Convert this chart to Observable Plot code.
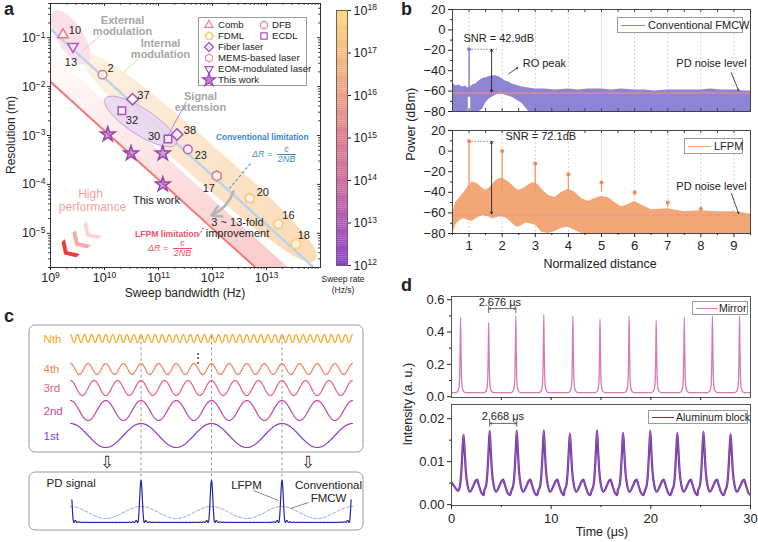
<!DOCTYPE html>
<html>
<head>
<meta charset="utf-8">
<script src="https://cdn.jsdelivr.net/npm/d3@7"></script>
<script src="https://cdn.jsdelivr.net/npm/@observablehq/plot@0.6"></script>
<style>
html,body{margin:0;padding:0;background:#fff;}
#fig{position:relative;width:758px;height:542px;overflow:hidden;font-family:"Liberation Sans",Arial,Helvetica,sans-serif;color:#222;}
#fig svg{overflow:visible;}
.box{position:absolute;border:1px solid #9a9a9a;background:#fff;}
.frac{display:inline-block;vertical-align:middle;text-align:center;line-height:1.05;margin-left:2px;}
.frac>span{display:block;padding:0 1px;}
.frac>span:first-child{border-bottom:1px solid currentColor;}
.plab{position:absolute;font-weight:bold;font-size:18px;line-height:18px;}
</style>
</head>
<body>
<div id="fig"></div>
<script>
// ======================= DATA =======================
// Panel a: literature data points
const refLabels       = ["10","13","2","37","32","30","38","23","17","20","16","18"];
const refTypes        = ["Comb","EOM-modulated laser","DFB","Fiber laser","ECDL","ECDL","Fiber laser","DFB","MEMS-based laser","FDML","FDML","FDML"];
const refBandwidthHz  = [1.7e9,2.6e9,9.2e9,3.3e10,2.1e10,1.5e11,2.2e11,3.5e11,1.2e12,4.9e12,1.66e13,3.5e13];
const refResolutionM  = [0.115,0.066,0.0175,5.5e-3,3.2e-3,8.5e-4,1.05e-3,5.2e-4,1.5e-4,5.2e-5,1.55e-5,6.0e-6];
const refSweepRateExp = [15,13,15,12.6,12.7,12.7,12.6,13.3,15,17.3,17.5,17.8];
// Panel a: this work
const workBandwidthHz  = [1.15e10,3.1e10,1.2e11,1.2e11];
const workResolutionM  = [1.05e-3,4.3e-4,4.3e-4,1.0e-4];
const workSweepRateExp = [12.8,12.8,12.8,12.8];
const legendTypes = ["Comb","DFB","FDML","ECDL","Fiber laser","MEMS-based laser","EOM-modulated laser","This work"];
const xTicksA = [1e9,1e10,1e11,1e12,1e13];
const yTicksA = [1e-5,1e-4,1e-3,1e-2,1e-1];
const rateTickExp = [12,13,14,15,16,17,18];
const halfC = 1.5e8;      // c/2
const lfpmFold = 12;      // N of the LFPM limitation
const lfpmBandFold = 3;   // upper edge of the improvement band

// Panel b: conventional FMCW spectrum envelope (dBm)
const fmcwX  = [0.5,0.55,0.6,0.7,0.8,0.9,0.95,1.05,1.1,1.2,1.3,1.4,1.5,1.6,1.7,1.8,1.9,2.0,2.1,2.2,2.3,2.4,2.6,2.8,3.0,3.3,3.6,4.0,4.3,4.6,5.0,5.3,5.6,6.0,6.3,6.6,7.0,7.3,7.6,8.0,8.3,8.6,9.0,9.3,9.5];
const fmcwHi = [-56,-53,-55,-54,-56,-55,-57,-56,-54,-53,-50,-48,-47,-46,-45,-45,-46,-48,-50,-51,-53,-54,-56,-57,-58,-58,-59,-58,-59,-58,-58,-59,-58,-59,-59,-60,-59,-59,-59,-59,-58,-59,-59,-60,-60];
const fmcwLo = [-80,-80,-80,-80,-80,-80,-80,-80,-80,-80,-80,-78,-72,-68,-66,-64,-63,-63,-64,-65,-66,-68,-72,-80,-80,-80,-80,-80,-80,-80,-80,-80,-80,-80,-80,-80,-80,-80,-80,-80,-80,-80,-80,-80,-80];
const fmcwPeakX = 1, fmcwPeakY = -19;
// Panel b: LFPM spectrum envelope (dBm)
const lfpmX  = [0.5,0.55,0.6,0.7,0.8,0.9,0.95,1.05,1.1,1.2,1.3,1.4,1.5,1.6,1.7,1.8,1.9,2.0,2.1,2.2,2.3,2.4,2.5,2.6,2.7,2.8,2.9,3.0,3.1,3.2,3.4,3.6,3.8,4.0,4.2,4.4,4.6,4.8,5.0,5.2,5.4,5.6,5.8,6.0,6.2,6.5,7.0,7.5,8.0,8.5,9.0,9.5];
const lfpmHi = [-62,-55,-50,-46,-42,-38,-35,-32,-30,-31,-33,-36,-38,-36,-33,-29,-27,-26,-28,-30,-33,-36,-38,-37,-35,-33,-31,-31,-33,-37,-43,-45,-40,-37,-40,-46,-49,-46,-44,-45,-50,-54,-52,-49,-52,-57,-56,-59,-58,-59,-59,-61];
const lfpmLo = [-80,-76,-72,-68,-66,-66,-67,-68,-68,-66,-64,-63,-63,-64,-66,-65,-64,-64,-65,-67,-70,-73,-74,-72,-70,-70,-71,-72,-75,-79,-80,-78,-75,-74,-77,-80,-80,-80,-80,-80,-80,-80,-80,-80,-80,-80,-80,-80,-80,-80,-80,-80];
const lfpmPeakX = [1,2,3,4,5,6,7,8];
const lfpmPeakY = [9.5,0,-12,-22.5,-30.5,-40,-50,-56];
const noiseLevelDbm = -62;
const bTicksX = [1,2,3,4,5,6,7,8,9];
const bTicksY = [20,0,-20,-40,-60,-80];

// Panel c: harmonics (schematic)
const harmonicNames  = ["Nth","4th","3rd","2nd","1st"];
const harmonicCycles = [10,4,3,2,1];
const harmonicColors = ["#f6a623","#f2825c","#e4607c","#c248a8","#8b3fd0"];
const pdHarmonics = 10;

// Panel d: pulse trains
const mirrorPeakT = [0.91,3.73,6.45,9.26,12.18,14.9,17.82,20.54,23.36,26.18,28.9];
const mirrorPeakV = [0.49,0.46,0.50,0.51,0.50,0.48,0.50,0.47,0.49,0.50,0.50];
const mirrorBase = 0.025;
const mirrorShapeDt  = [-0.5,-0.28,-0.16,-0.09,-0.045,0,0.045,0.09,0.16,0.28,0.5];
const mirrorShapeRel = [0,0.02,0.07,0.22,0.55,1,0.55,0.22,0.07,0.02,0];
const alPeakT = [1.21,3.83,6.55,9.26,11.88,14.6,17.22,19.94,22.66,25.28,28.0];
const alPeakV = [0.0163,0.0172,0.0172,0.0173,0.0166,0.0173,0.0167,0.0172,0.0167,0.0170,0.0164];
const alShapeDt = [-0.55,-0.35,-0.2,-0.1,0,0.1,0.22,0.4,0.65,0.95,1.2,1.35,1.55,1.8,2.05];
const alShapeV  = [0.0032,0.0045,0.0085,0.013,null,0.013,0.008,0.0045,0.003,0.0042,0.0055,0.0058,0.0044,0.0027,0.0022];
const alStart = [[0,0.0052],[0.3,0.0042]];
const dTicksX = [0,10,20,30];

// ======================= HELPERS =======================
const FONT='"Liberation Sans", Arial, Helvetica, sans-serif';
const fig=document.getElementById('fig');
const NS='http://www.w3.org/2000/svg';
function put(node,left,top){node.style.position='absolute';node.style.left=left+'px';node.style.top=top+'px';fig.appendChild(node);return node;}
function htmlAt(inner,left,top,css){const d=document.createElement('div');d.innerHTML=inner;d.style.cssText=css||'';return put(d,left,top);}
function hLabel(text,cx,cy,size,css){const d=document.createElement('div');d.textContent=text;d.style.cssText=`width:300px;text-align:center;font-size:${size}px;line-height:${size}px;white-space:nowrap;${css||''}`;return put(d,cx-150,cy-size/2);}
function vLabel(text,cx,cy,size){const d=document.createElement('div');d.textContent=text;d.style.cssText=`width:200px;text-align:center;font-size:${size}px;line-height:${size}px;white-space:nowrap;transform:rotate(-90deg);transform-origin:100px ${size/2}px;`;return put(d,cx-100,cy-size/2);}
function supify(svg){svg.querySelectorAll('text').forEach(t=>{const m=/^10\^(.+)$/.exec(t.textContent);if(!m)return;t.textContent='';const a=document.createElementNS(NS,'tspan');a.textContent='10';const b=document.createElementNS(NS,'tspan');b.textContent=m[1].replace('-','\u2212');b.setAttribute('dy','-0.48em');b.setAttribute('font-size','68%');t.append(a,b);});return svg;}
const base={style:{fontFamily:FONT,fontSize:'12.5px',background:'transparent',overflow:'visible',color:'#222'},color:{type:'identity'}};

const rateStops=[12,13,14,15,16,17,18];
const rateColors=["#8a3fd0","#b257b5","#d26c9c","#e07d8c","#eda086","#f6bc7e","#fdd57a"];
const rateColor=d3.scaleLinear().domain(rateStops).range(rateColors).interpolate(d3.interpolateRgb);

function polySym(n,rot,k){return {draw(ctx,size){const R=Math.sqrt(size/Math.PI)*k;for(let i=0;i<n;i++){const a=rot+2*Math.PI*i/n;const x=R*Math.sin(a),y=-R*Math.cos(a);if(i)ctx.lineTo(x,y);else ctx.moveTo(x,y);}ctx.closePath();}};}
const typeSymbol={"Comb":polySym(3,0,1.3),"DFB":d3.symbolCircle,"FDML":polySym(5,0,1.12),"ECDL":d3.symbolSquare,"Fiber laser":polySym(4,0,1.25),"MEMS-based laser":polySym(6,0,1.1),"EOM-modulated laser":polySym(3,Math.PI,1.3),"This work":d3.symbolStar};
const typeLegendColor={"Comb":"#ea8592","DFB":"#e57f93","FDML":"#f7bb58","ECDL":"#a552c6","Fiber laser":"#9d47c5","MEMS-based laser":"#e8909c","EOM-modulated laser":"#a24bc6","This work":"#9b4ab9"};
function symPath(sym,r){return d3.symbol().type(sym).size(Math.PI*r*r)();}

// ======================= PANEL A =======================
const A={w:330,h:300,ml:50,mr:10,mt:3,mb:33};A.fw=A.w-A.ml-A.mr;A.fh=A.h-A.mt-A.mb;
const ly0=Math.log10(2e-6),ly1=Math.log10(0.5);
const aX=px=>10**(9+(px-A.ml)/A.fw*5);
const aY=py=>10**(ly1-(py-A.mt)/A.fh*(ly1-ly0));
const aPX=B=>A.ml+(Math.log10(B)-9)/5*A.fw;
const aPY=R=>A.mt+(ly1-Math.log10(R))/(ly1-ly0)*A.fh;
function ellipse(s){const th=s.ang*Math.PI/180,pts=[];for(let i=0;i<90;i++){const t=2*Math.PI*i/90,ct=Math.cos(t),st=Math.sin(t);const u=s.a*Math.sign(ct)*Math.abs(ct)**(2/s.p),v=s.b*Math.sign(st)*Math.abs(st)**(2/s.p);pts.push({x:aX(s.cx+u*Math.cos(th)-v*Math.sin(th)),y:aY(s.cy+u*Math.sin(th)+v*Math.cos(th))});}return pts;}
const shapes={external:{cx:70,cy:37,a:31,b:13,ang:58,p:2},internal:{cx:200,cy:158,a:153,b:18,ang:41.5,p:2.6},signal:{cx:140,cy:121,a:42,b:13,ang:33,p:2}};
const labelOffset={"10":[12,-4],"13":[-2,16],"2":[8,-6],"37":[11,-4],"32":[10,10],"30":[-14,-2],"38":[13,-4],"23":[13,6],"17":[-8,13],"20":[13,-6],"16":[10,-9],"18":[8,-9]};
const xMinorA=[],yMinorA=[];
for(let e=9;e<14;e++)for(let m=2;m<10;m++)xMinorA.push(m*10**e);
for(let e=-6;e<0;e++)for(let m=2;m<10;m++){const v=m*10**e;if(v>=2e-6&&v<=0.5)yMinorA.push(v);}
const bandB=[1e9,1e14];
const defsA=()=>{const g=document.createElementNS(NS,'defs');g.innerHTML='<linearGradient id="gPink" gradientUnits="userSpaceOnUse" x1="70" y1="80" x2="250" y2="260"><stop offset="0" stop-color="#fff6f6"/><stop offset="1" stop-color="#fbcdcd"/></linearGradient><linearGradient id="gOrange" gradientUnits="userSpaceOnUse" x1="90" y1="55" x2="310" y2="260"><stop offset="0" stop-color="#fdf0e2"/><stop offset="1" stop-color="#fcdab4"/></linearGradient>';return g;};
const link=(p,stroke,dash,w)=>Plot.link([0],{x1:aX(p[0]),y1:aY(p[1]),x2:aX(p[2]),y2:aY(p[3]),stroke,strokeDasharray:dash,strokeWidth:w||0.9});
const txt=(t,px,py,o)=>Plot.text([t],{x:aX(px),y:aY(py),text:d=>d,fontSize:11,lineHeight:1.0,...o});
const idx=n=>d3.range(n);
const dotMarks=Object.keys(typeSymbol).filter(t=>t!=="This work").map(t=>Plot.dot(idx(refLabels.length).filter(i=>refTypes[i]===t),{x:i=>refBandwidthHz[i],y:i=>refResolutionM[i],symbol:typeSymbol[t],r:t==="DFB"?4.3:(t==="ECDL"?4.2:4.6),stroke:i=>rateColor(refSweepRateExp[i]),strokeWidth:1.5,fill:'#fff',fillOpacity:0.6}));
const plotA=Plot.plot({
  width:A.w,height:A.h,marginLeft:A.ml,marginRight:A.mr,marginTop:A.mt,marginBottom:A.mb,
  x:{type:'log',domain:[1e9,1e14]},y:{type:'log',domain:[2e-6,0.5]},...base,
  marks:[
    defsA,
    Plot.areaY(bandB,{x:d=>d,y1:d=>halfC/(lfpmFold*d),y2:d=>halfC/(lfpmBandFold*d),fill:'url(#gPink)',clip:true}),
    Plot.line(ellipse(shapes.internal),{x:'x',y:'y',fill:'url(#gOrange)',stroke:'none',curve:'linear-closed',clip:true}),
    Plot.line(ellipse(shapes.external),{x:'x',y:'y',fill:'#fbdfe9',stroke:'none',curve:'linear-closed',clip:true}),
    Plot.line(bandB,{x:d=>d,y:d=>halfC/d,stroke:'#b9d3ea',strokeWidth:2.5,clip:true}),
    Plot.line(ellipse(shapes.signal),{x:'x',y:'y',fill:'#e6d6f2',fillOpacity:0.85,stroke:'#b98ad6',strokeWidth:0.8,curve:'linear-closed',clip:true}),
    Plot.line(bandB,{x:d=>d,y:d=>halfC/(lfpmFold*d),stroke:'#f37b7b',strokeWidth:2,clip:true}),
    link([82,50,100,35],'#f4b6c8'),
    link([123,72,138,58],'#f5c98f'),
    link([163,143,186,101],'#b27ed4'),
    link([250,163,229,188],'#4f93d2','3,2',1.1),
    link([198,235,204,226],'#f0506a','2,1.5',1.1),
    Plot.arrow([0],{x1:aX(233),y1:aY(191),x2:aX(211),y2:aY(215),bend:true,stroke:'#b5b5b5',strokeWidth:2.6,headLength:7}),
    ...dotMarks,
    Plot.dot(idx(workBandwidthHz.length),{x:i=>workBandwidthHz[i],y:i=>workResolutionM[i],symbol:d3.symbolStar,r:4.6,fill:i=>rateColor(workSweepRateExp[i]),fillOpacity:0.55,stroke:'#9545b8',strokeWidth:1.5}),
    Plot.text(idx(refLabels.length),{x:i=>aX(aPX(refBandwidthHz[i])+labelOffset[refLabels[i]][0]),y:i=>aY(aPY(refResolutionM[i])+labelOffset[refLabels[i]][1]),text:i=>refLabels[i],fontSize:11,fill:'#222'}),
    txt("External\nmodulation",122,25.5,{fill:'#a6a6a6',fontWeight:'bold'}),
    txt("Internal\nmodulation",160,48.5,{fill:'#a6a6a6',fontWeight:'bold'}),
    txt("Signal\nextension",200,101.5,{fill:'#a6a6a6',fontWeight:'bold'}),
    txt("This work",156,200,{fill:'#222'}),
    txt("3 ~ 13-fold\nimprovement",237,227.5,{fill:'#222'}),
    txt("High",90,194,{fill:'#f4a3a3',fontSize:12}),
    txt("performance",92,207,{fill:'#f4a3a3',fontSize:12}),
    Plot.text(["\u276E"],{x:aX(89),y:aY(231),text:d=>d,rotate:-45,fontSize:21,fill:'#fbd6d6',fontFamily:'DejaVu Sans'}),
    Plot.text(["\u276E"],{x:aX(78),y:aY(240),text:d=>d,rotate:-45,fontSize:21,fill:'#f7a9a9',fontFamily:'DejaVu Sans'}),
    Plot.text(["\u276E"],{x:aX(67),y:aY(249),text:d=>d,rotate:-45,fontSize:21,fill:'#f23a3a',fontFamily:'DejaVu Sans'}),
    Plot.axisX({ticks:xTicksA,tickFormat:d=>'10^'+Math.round(Math.log10(d)),tickSize:3,tickPadding:3,fontSize:12.5,label:null}),
    Plot.axisX({ticks:xMinorA,tickFormat:()=>'',tickSize:1.8,label:null}),
    Plot.axisY({ticks:yTicksA,tickFormat:d=>'10^'+Math.round(Math.log10(d)),tickSize:3,tickPadding:2,fontSize:12.5,label:null}),
    Plot.axisY({ticks:yMinorA,tickFormat:()=>'',tickSize:1.8,label:null}),
    Plot.tickX([...xTicksA,1e14],{x:d=>d,insetBottom:A.fh-3,stroke:'#333'}),
    Plot.tickX(xMinorA,{x:d=>d,insetBottom:A.fh-1.8,stroke:'#333'}),
    Plot.tickY(yTicksA,{y:d=>d,insetLeft:A.fw-3,stroke:'#333'}),
    Plot.tickY(yMinorA,{y:d=>d,insetLeft:A.fw-1.8,stroke:'#333'}),
    Plot.frame({stroke:'#333'})
  ]});
put(supify(plotA),0,0);
vLabel("Resolution (m)",11,135,12);
hLabel("Sweep bandwidth (Hz)",185,293,12);
// formulas
htmlAt('Conventional limitation',216,132,'color:#3c89cc;font-weight:bold;font-size:8.4px;white-space:nowrap;');
htmlAt('<i>\u0394R</i> = <span class="frac"><span><i>c</i></span><span><i>2NB</i></span></span>',252,145,'color:#3c89cc;font-size:9px;white-space:nowrap;');
hLabel('LFPM limitation',167,234,8.6,'color:#f0506a;font-weight:bold;');
htmlAt('<i>\u0394R</i> = <span class="frac"><span><i>c</i></span><span><i>2NB</i></span></span>',148,239,'color:#f0506a;font-size:9px;white-space:nowrap;');
// legend of panel a
(function(){const box=document.createElement('div');box.className='box';box.style.width='107px';box.style.height='67px';put(box,198,17);
 const pos={"Comb":[0,0],"DFB":[1,0],"FDML":[0,1],"ECDL":[1,1],"Fiber laser":[0,2],"MEMS-based laser":[0,3],"EOM-modulated laser":[0,4],"This work":[0,5]};
 legendTypes.forEach(t=>{const [c,r]=pos[t];const mx=c?65:10,tx=c?73:19,cy=7+r*11;const star=t==="This work";const col=typeLegendColor[t];
  const s=document.createElementNS(NS,'svg');s.setAttribute('width',14);s.setAttribute('height',14);s.style.cssText=`position:absolute;left:${mx-7}px;top:${cy-7}px;overflow:visible`;
  const p=document.createElementNS(NS,'path');p.setAttribute('d',symPath(typeSymbol[t],star?4.2:3.6));p.setAttribute('transform','translate(7,7)');p.setAttribute('stroke',col);p.setAttribute('stroke-width',1.2);p.setAttribute('fill',star?col:'#fff');if(star)p.setAttribute('fill-opacity',0.7);s.appendChild(p);box.appendChild(s);
  const sp=document.createElement('span');sp.textContent=t;sp.style.cssText=`position:absolute;left:${tx}px;top:${cy-6}px;font-size:9.6px;line-height:12px;white-space:nowrap;`;box.appendChild(sp);});
})();

// ======================= COLORBAR =======================
const cbSteps=d3.range(12,18,0.05);
const plotCB=Plot.plot({width:80,height:300,marginLeft:16,marginRight:53,marginTop:10,marginBottom:35,x:{domain:[0,1],axis:null},y:{domain:[12,18]},...base,
  marks:[Plot.rect(cbSteps,{x1:0,x2:1,y1:d=>d,y2:d=>d+0.051,fill:d=>rateColor(d)}),Plot.frame({stroke:'#666'}),
    Plot.axisY({anchor:'right',ticks:rateTickExp,tickFormat:d=>'10^'+d,tickSize:3,tickPadding:3,fontSize:12.5,label:null})]});
put(supify(plotCB),320,0);
hLabel("Sweep rate",343,279,8.5);hLabel("(Hz/s)",343,290,8.5);

// ======================= PANEL B =======================
function bAxes(frameH,showX){const m=[
  Plot.axisY({ticks:bTicksY,tickSize:4,tickPadding:3,fontSize:13,label:null}),
  Plot.axisY({ticks:[10,-10,-30,-50,-70],tickSize:2,tickFormat:()=>'',label:null}),
  Plot.tickX(d3.range(0.5,9.51,0.5),{x:d=>d,insetBottom:frameH-3,stroke:'#444'}),
  Plot.frame({stroke:'#444'})];
  if(showX){m.push(Plot.axisX({ticks:bTicksX,tickSize:4,tickPadding:3,fontSize:13,label:null}),Plot.axisX({ticks:d3.range(0.5,9.51,1),tickSize:2,tickFormat:()=>'',label:null}));}
  else{m.push(Plot.tickX(d3.range(0.5,9.51,0.5),{x:d=>d,insetTop:frameH-3,stroke:'#444'}));}
  return m;}
const tx1=(s,x,y,o)=>Plot.text([s],{x,y,text:d=>d,fontSize:11,...o});
const plotB1=Plot.plot({width:358,height:120,marginLeft:52,marginRight:8,marginTop:9,marginBottom:9,x:{domain:[0.5,9.5],axis:null},y:{domain:[-80,20]},...base,
  marks:[
    Plot.ruleX(bTicksX,{stroke:'#c4c4c4',strokeDasharray:'1.5,2.5'}),
    Plot.areaY(idx(fmcwX.length),{x:i=>fmcwX[i],y1:i=>fmcwLo[i],y2:i=>fmcwHi[i],fill:'#8d84d5'}),
    Plot.ruleY([noiseLevelDbm],{stroke:'#f08a8a',strokeWidth:1.3}),
    Plot.ruleX([fmcwPeakX],{y1:-80,y2:-66,stroke:'#fff',strokeWidth:2.5}),
    Plot.ruleX([fmcwPeakX],{y1:-60,y2:fmcwPeakY,stroke:'#8a7dd2',strokeWidth:1.4}),
    Plot.dot([0],{x:fmcwPeakX,y:fmcwPeakY,r:2,fill:'#8a7dd2'}),
    Plot.link([0],{x1:1.07,y1:fmcwPeakY,x2:1.85,y2:fmcwPeakY,stroke:'#888',strokeDasharray:'1.5,1.5'}),
    Plot.arrow([0],{x1:1.68,y1:-40,x2:1.68,y2:fmcwPeakY,headLength:4,stroke:'#222',strokeWidth:0.9}),
    Plot.arrow([0],{x1:1.68,y1:-40,x2:1.68,y2:-61,headLength:4,stroke:'#222',strokeWidth:0.9}),
    tx1("SNR = 42.9dB",0.83,-8.5,{textAnchor:'start'}),
    Plot.arrow([0],{x1:2.2,y1:-43,x2:2.47,y2:-37,headLength:3,stroke:'#222',strokeWidth:0.8}),
    tx1("RO peak",2.62,-33,{textAnchor:'start'}),
    tx1("PD noise level",7.26,-33,{textAnchor:'start'}),
    Plot.arrow([0],{x1:8.92,y1:-42,x2:9.14,y2:-59.5,headLength:3,stroke:'#222',strokeWidth:0.8}),
    ...bAxes(102,false)
  ]});
put(plotB1,400,0);
const plotB2=Plot.plot({width:358,height:150,marginLeft:52,marginRight:8,marginTop:10,marginBottom:37,x:{domain:[0.5,9.5]},y:{domain:[-80,20]},...base,
  marks:[
    Plot.ruleX(bTicksX,{stroke:'#c4c4c4',strokeDasharray:'1.5,2.5'}),
    Plot.areaY(idx(lfpmX.length),{x:i=>lfpmX[i],y1:i=>lfpmLo[i],y2:i=>lfpmHi[i],fill:'#f3a676'}),
    Plot.ruleY([noiseLevelDbm],{stroke:'#e68aa8',strokeWidth:1.1,strokeDasharray:'5,3'}),
    Plot.ruleX(idx(lfpmPeakX.length),{x:i=>lfpmPeakX[i],y1:i=>Math.min(-40,lfpmPeakY[i]-4),y2:i=>lfpmPeakY[i],stroke:'#f19a6a',strokeWidth:1.3}),
    Plot.dot(idx(lfpmPeakX.length),{x:i=>lfpmPeakX[i],y:i=>lfpmPeakY[i],r:2,fill:'#f08a5c'}),
    Plot.link([0],{x1:1.07,y1:lfpmPeakY[0],x2:1.8,y2:lfpmPeakY[0],stroke:'#888',strokeDasharray:'1.5,1.5'}),
    Plot.arrow([0],{x1:1.68,y1:-25,x2:1.68,y2:lfpmPeakY[0],headLength:4,stroke:'#222',strokeWidth:0.9}),
    Plot.arrow([0],{x1:1.68,y1:-25,x2:1.68,y2:-61,headLength:4,stroke:'#222',strokeWidth:0.9}),
    tx1("SNR = 72.1dB",2.1,14,{textAnchor:'start'}),
    tx1("PD noise level",7.26,-34.4,{textAnchor:'start'}),
    Plot.arrow([0],{x1:8.92,y1:-41,x2:9.14,y2:-60.5,headLength:3,stroke:'#222',strokeWidth:0.8}),
    ...bAxes(103,true)
  ]});
put(plotB2,400,120);
vLabel("Power (dBm)",411,124,12.5);
hLabel("Normalized distance",600,264,12.5);
function lineLegend(left,top,w,h,color,text,lx0,lx1,tx,sw,fs){const box=document.createElement('div');box.className='box';box.style.width=w+'px';box.style.height=h+'px';put(box,left,top);
  const ln=document.createElement('div');ln.style.cssText=`position:absolute;left:${lx0}px;top:${h/2-0.5}px;width:${lx1-lx0}px;height:0;border-top:${sw}px solid ${color};`;box.appendChild(ln);
  const sp=document.createElement('span');sp.textContent=text;sp.style.cssText=`position:absolute;left:${tx}px;top:${(h-fs-2)/2}px;font-size:${fs}px;line-height:${fs+2}px;white-space:nowrap;`;box.appendChild(sp);}
lineLegend(617,17,124,14,'#8a7dd2','Conventional FMCW',3,27,30,1.2,11);
lineLegend(684,138,57,14,'#f3a676','LFPM',3,26,29,1.2,11);

// ======================= PANEL C =======================
const cx=px=>(px-70)/70.5;     // x in units of the 1st-order period
const cRows=[38,68.5,87.5,110,135],cAmps=[4,5.5,7.5,10,12];
const waveMarks=harmonicNames.map((n,j)=>{const m=harmonicCycles[j];const step=m>=10?0.004:0.01;
  const pts=d3.range(0,4.0001,step).map(x=>({x,y:cRows[j]-cAmps[j]*Math.cos(2*Math.PI*m*x)}));
  return Plot.line(pts,{x:'x',y:'y',stroke:harmonicColors[j],strokeWidth:1.2});});
const pdPts=d3.range(0.02,3.9801,0.002).map(x=>{const K=2*pdHarmonics+1;const s=Math.sin(Math.PI*x);const v=Math.abs(s)<1e-9?1:(Math.sin(K*Math.PI*x)/(K*s))**2;return {x,y:222-42*v};});
const fmcwPts=d3.range(0,4.0001,0.01).map(x=>({x,y:212-6*Math.cos(2*Math.PI*x)}));
const plotC=Plot.plot({width:370,height:242,margin:0,x:{domain:[cx(0),cx(370)],axis:null},y:{domain:[242,0],axis:null},...base,
  marks:[
    Plot.rect([[25,152],[172,230]],{x1:cx(29),x2:cx(363),y1:d=>d[0],y2:d=>d[1],rx:6,fill:'none',stroke:'#9a9a9a',strokeWidth:1}),
    Plot.ruleX([1,2,3],{y1:36,y2:181,stroke:'#9a9a9a',strokeDasharray:'3,2.5',strokeWidth:1}),
    ...waveMarks,
    Plot.text(harmonicNames,{x:cx(43),y:(d,i)=>cRows[i]+0.5,text:d=>d,fill:(d,i)=>harmonicColors[i],fontSize:11.5,textAnchor:'start'}),
    Plot.text(["\u22EE"],{x:1.81,y:58,text:d=>d,fontSize:12,fill:'#222'}),
    Plot.text(["\u21E9","\u21E9"],{x:(d,i)=>i?3.37:0.52,y:162,text:d=>d,fontSize:17,fill:'#333',fontFamily:'DejaVu Sans'}),
    Plot.line(fmcwPts,{x:'x',y:'y',stroke:'#a98ae8',strokeWidth:1,strokeDasharray:'3,2'}),
    Plot.line(pdPts,{x:'x',y:'y',stroke:'#2626a0',strokeWidth:1.2}),
    Plot.text(["PD signal"],{x:cx(46),y:183,text:d=>d,fontSize:11.5,textAnchor:'start'}),
    Plot.text(["LFPM"],{x:cx(246),y:185,text:d=>d,fontSize:11.5}),
    Plot.text(["Conventional","FMCW"],{x:cx(328),y:(d,i)=>i?198:185,text:d=>d,fontSize:11.5}),
    Plot.link([0],{x1:cx(253),y1:190,x2:cx(278),y2:200,stroke:'#555',strokeWidth:0.7}),
    Plot.link([0],{x1:cx(308),y1:202,x2:cx(290),y2:208,stroke:'#555',strokeWidth:0.7})
  ]});
put(plotC,0,300);

// ======================= PANEL D =======================
const mirrorPts=[{t:0,v:mirrorBase}];
mirrorPeakT.forEach((t,k)=>mirrorShapeDt.forEach((dt,j)=>mirrorPts.push({t:t+dt,v:mirrorBase+(mirrorPeakV[k]-mirrorBase)*mirrorShapeRel[j]})));
mirrorPts.push({t:30,v:mirrorBase});
const alPts=alStart.map(([t,v])=>({t,v}));
alPeakT.forEach((t,k)=>alShapeDt.forEach((dt,j)=>alPts.push({t:t+dt,v:alShapeV[j]===null?alPeakV[k]:alShapeV[j]})));
function dAxes(frameH,ticks,fmt,minor,showX){const m=[
  Plot.axisY({ticks,tickFormat:fmt,tickSize:4,tickPadding:3,fontSize:13,label:null}),
  Plot.axisY({ticks:minor,tickSize:2,tickFormat:()=>'',label:null}),
  Plot.frame({stroke:'#555'})];
  if(showX)m.push(Plot.axisX({ticks:dTicksX,tickSize:4,tickPadding:4,fontSize:13,label:null}),Plot.axisX({ticks:[5,15,25],tickSize:2,tickFormat:()=>'',label:null}));
  else m.push(Plot.axisX({ticks:[5,10,15,20,25],tickSize:3,tickFormat:()=>'',label:null}));
  return m;}
const plotD1=Plot.plot({width:358,height:110,marginLeft:51,marginRight:8,marginTop:6,marginBottom:3,x:{domain:[0,30]},y:{domain:[-0.005,0.62]},...base,
  marks:[
    Plot.line(mirrorPts,{x:'t',y:'v',stroke:'#d67ab4',strokeWidth:1.3,curve:'monotone-x',clip:true}),
    Plot.arrow([0],{x1:5.09,y1:0.545,x2:mirrorPeakT[1]+0.05,y2:0.545,headLength:3,stroke:'#444',strokeWidth:0.8}),
    Plot.arrow([0],{x1:5.09,y1:0.545,x2:mirrorPeakT[2]-0.05,y2:0.545,headLength:3,stroke:'#444',strokeWidth:0.8}),
    Plot.ruleX([mirrorPeakT[1],mirrorPeakT[2]],{y1:0.515,y2:0.56,stroke:'#444',strokeWidth:0.8}),
    Plot.text(["2.676 \u03BCs"],{x:4.85,y:0.585,text:d=>d,fontSize:11}),
    ...dAxes(101,[0,0.2,0.4,0.6],d3.format('.1f'),[0.1,0.3,0.5],false)
  ]});
put(plotD1,400,290);
const plotD2=Plot.plot({width:358,height:142,marginLeft:51,marginRight:8,marginTop:4,marginBottom:37,x:{domain:[0,30]},y:{domain:[-0.0002,0.0233]},...base,
  marks:[
    Plot.line(alPts,{x:'t',y:'v',stroke:'#6c2e9f',strokeWidth:2.2,curve:'monotone-x',clip:true}),
    Plot.line(alPts,{x:'t',y:'v',stroke:'#a47ccc',strokeWidth:0.6,curve:'monotone-x',clip:true}),
    Plot.arrow([0],{x1:5.19,y1:0.0189,x2:alPeakT[1]+0.05,y2:0.0189,headLength:3,stroke:'#444',strokeWidth:0.8}),
    Plot.arrow([0],{x1:5.19,y1:0.0189,x2:alPeakT[2]-0.05,y2:0.0189,headLength:3,stroke:'#444',strokeWidth:0.8}),
    Plot.ruleX([alPeakT[1],alPeakT[2]],{y1:0.018,y2:0.0196,stroke:'#444',strokeWidth:0.8}),
    Plot.text(["2.668 \u03BCs"],{x:5.15,y:0.0206,text:d=>d,fontSize:11}),
    ...dAxes(100,[0,0.01,0.02],d3.format('.2f'),[0.005,0.015],true)
  ]});
put(plotD2,400,400);
vLabel("Intensity (a. u.)",408,404,12.5);
hLabel("Time (\u03BCs)",602,532,12.5);
lineLegend(692,301,54,12,'#d67ab4','Mirror',3,25,26,1.2,10.5);
lineLegend(648,410,98,12,'#6c2e9f','Aluminum block',3,25,27,1.6,10.5);

// panel letters
[['a',4,0],['b',401,0],['c',4,307],['d',401,276]].forEach(([l,x,y])=>{const d=document.createElement('div');d.className='plab';d.textContent=l;put(d,x,y);});
</script>
</body>
</html>
